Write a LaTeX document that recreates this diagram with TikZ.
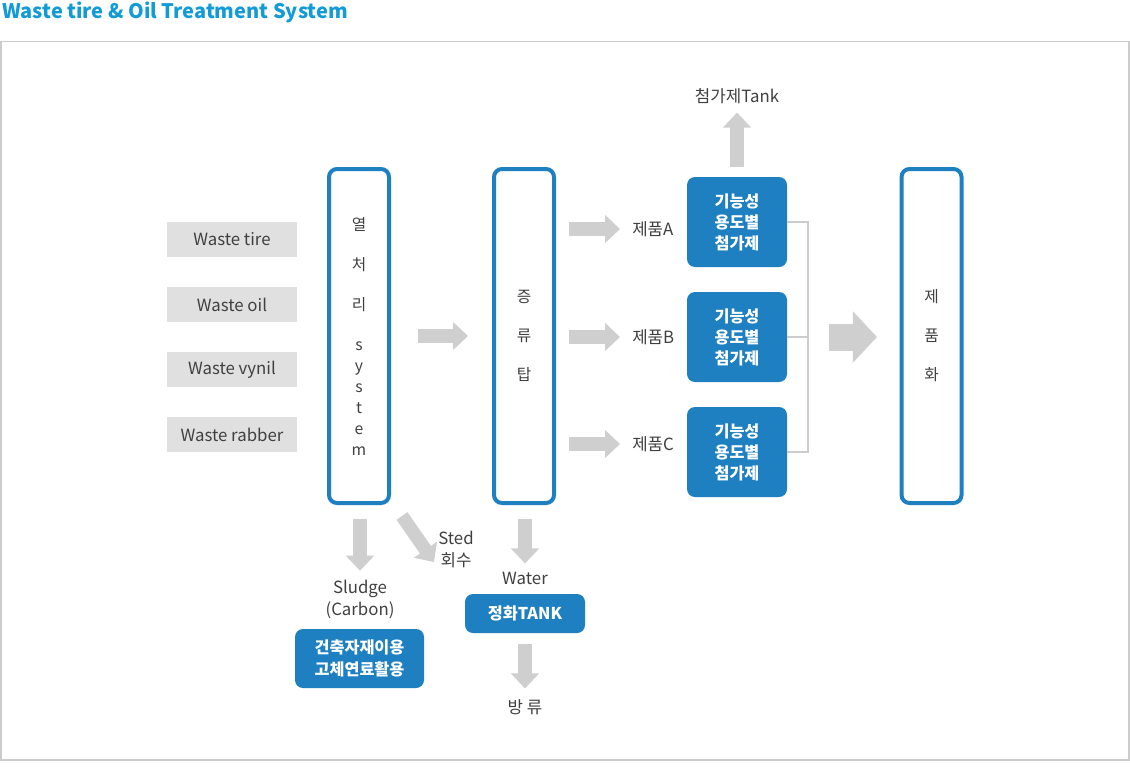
\documentclass[tikz,border=0pt]{standalone}
\usepackage{fontspec}
\setmainfont{Noto Sans CJK KR}
\usetikzlibrary{arrows.meta,positioning}
\definecolor{wtblue}{RGB}{31,128,193}
\definecolor{wttitle}{RGB}{18,155,215}
\definecolor{wtgray}{RGB}{224,224,224}
\definecolor{wtarrow}{RGB}{207,207,207}
\definecolor{wttext}{RGB}{64,64,64}
\definecolor{wtline}{RGB}{204,204,204}
\tikzset{
  ttl/.style={anchor=west, inner sep=0pt, text=wttitle, font=\fontsize{15}{18}\selectfont\bfseries},
  frame/.style={draw=wtline, line width=1.1pt},
  inbox/.style={fill=wtgray, minimum width=97.5pt, minimum height=26.25pt, inner sep=0pt,
                text=wttext, font=\fontsize{12.6}{14}\selectfont},
  colbox/.style={draw=wtblue, line width=3pt, rounded corners=6pt, minimum width=45pt,
                 minimum height=250.5pt, inner sep=0pt, align=center, text=wttext,
                 font=\fontsize{11.8}{15.75}\selectfont},
  addbox/.style={fill=wtblue, rounded corners=6pt, minimum width=75pt, minimum height=67.5pt,
                 inner sep=0pt, align=center, text=white, font=\fontsize{12.2}{15.75}\selectfont\bfseries},
  bluebox/.style={fill=wtblue, rounded corners=6pt, inner sep=0pt, align=center, text=white,
                  font=\fontsize{12.2}{16.5}\selectfont\bfseries},
  lbl/.style={inner sep=1.5pt, text=wttext, align=center, font=\fontsize{12.6}{16.5}\selectfont},
  fatarr/.style={wtarrow, line width=10pt, -{Triangle[length=11.25pt, width=20.5pt]}},
  bigarr/.style={wtarrow, line width=20.25pt, -{Triangle[length=18pt, width=37.5pt]}},
  joinline/.style={wtline, line width=1.5pt},
}
\begin{document}
\begin{tikzpicture}[x=0.75pt, y=-0.75pt]
  \useasboundingbox (0,0) rectangle (1130,778);
  \node[ttl] (title) at (2,12) {Waste tire \& Oil Treatment System};
  \draw[frame] (1,41.5) rectangle (1129,760);

  % waste inputs
  \node[inbox] (tire) at (232,239.5) {Waste tire};
  \node[inbox] (oil) at (232,304.5) {Waste oil};
  \node[inbox] (vynil) at (232,369.5) {Waste vynil};
  \node[inbox] (rabber) at (232,434.5) {Waste rabber};

  % main columns
  \node[colbox] (heat) at (359,336)
       {열\\[14.25pt]처\\[14.25pt]리\\[14.25pt]s\\y\\s\\t\\e\\m};
  \node[colbox] (dist) at (524,336) {증\\[13.5pt]류\\[13.5pt]탑};
  \node[colbox] (prod) at (931.5,336) {제\\[13.5pt]품\\[13.5pt]화};
  \draw[fatarr, shorten <=20.25pt, shorten >=18pt] (heat) -- (dist);

  % products
  \node[lbl, anchor=west] (pa) at (630,229) {제품A};
  \node[lbl, anchor=west] (pb) at (630,337) {제품B};
  \node[lbl, anchor=west] (pc) at (630,444) {제품C};
  \draw[fatarr, shorten <=9.75pt, shorten >=7.5pt] (dist.east |- pa.west) -- (pa.west);
  \draw[fatarr, shorten <=9.75pt, shorten >=7.5pt] (dist.east |- pb.west) -- (pb.west);
  \draw[fatarr, shorten <=9.75pt, shorten >=7.5pt] (dist.east |- pc.west) -- (pc.west);

  \node[addbox] (fa) at (737,222) {기능성\\용도별\\첨가제};
  \node[addbox] (fb) at (737,337) {기능성\\용도별\\첨가제};
  \node[addbox] (fc) at (737,452) {기능성\\용도별\\첨가제};
  \node[lbl] (tank) at (737,96) {첨가제Tank};
  \draw[fatarr, shorten <=7.5pt, shorten >=5pt] (fa.north) -- (tank.south);

  \coordinate (jA) at (808,222);
  \coordinate (jB) at (808,337);
  \coordinate (jC) at (808,452);
  \draw[joinline] (fa.east) -- (jA) -- (jC) -- (fc.east);
  \draw[joinline] (fb.east) -- (jB);
  \draw[bigarr, shorten <=15.75pt, shorten >=16.9pt] (jB) -- (jB -| prod.west);

  % by-products
  \node[lbl] (sludge) at (360,599) {Sludge\\(Carbon)};
  \node[bluebox, minimum width=96.75pt, minimum height=44.25pt] (reuse) at (359.5,658.5)
       {건축자재이용\\고체연료활용};
  \draw[fatarr, shorten <=10.5pt, shorten >=5pt] (heat.south -| sludge) -- (sludge);
  \node[lbl] (sted) at (456,549) {Sted\\회수};
  \coordinate (stedfrom) at (402,516);
  \coordinate (stedtip) at (434,562);
  \draw[fatarr] (stedfrom) -- (stedtip);

  \node[lbl] (water) at (525,578) {Water};
  \node[bluebox, minimum width=90pt, minimum height=29.25pt] (clean) at (525,613.5) {정화TANK};
  \node[lbl] (drain) at (525,707) {방 류};
  \draw[fatarr, shorten <=10.5pt, shorten >=4.5pt] (dist.south -| water) -- (water);
  \draw[fatarr, shorten <=8.25pt, shorten >=6.5pt] (clean) -- (drain);
\end{tikzpicture}
\end{document}
